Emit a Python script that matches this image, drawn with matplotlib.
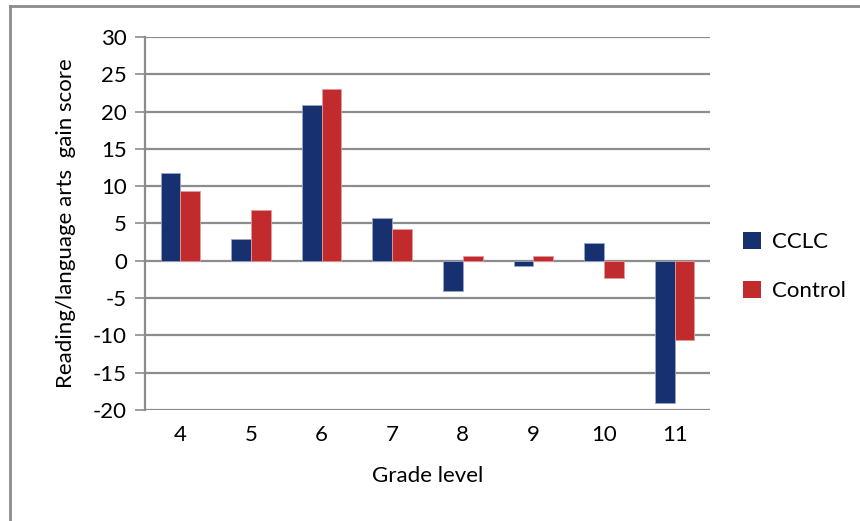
import numpy as np
import matplotlib.pyplot as plt
from matplotlib.lines import Line2D
from matplotlib.patches import Patch

plt.rcParams['font.family'] = ['Lato', 'DejaVu Sans']
plt.rcParams['axes.unicode_minus'] = False

grades = ['4', '5', '6', '7', '8', '9', '10', '11']
cclc = [11.8, 2.9, 20.9, 5.8, -4.1, -0.7, 2.4, -19.1]
control = [9.3, 6.8, 23.0, 4.3, 0.6, 0.7, -2.3, -10.6]

blue = '#17306f'
red = '#c22b2e'
grid_col = '#8c8c8c'
fs = 16

fig = plt.figure(figsize=(8.6, 5.21), dpi=100)
ax = fig.add_axes([0.1686, 0.2131, 0.6570, 0.7159])

x = np.arange(len(grades))
w = 0.28
ax.bar(x - w / 2, cclc, w, color=blue, edgecolor='#9aa6c8', linewidth=0.6, zorder=3)
ax.bar(x + w / 2, control, w, color=red, edgecolor='#e29a9c', linewidth=0.6, zorder=3)

ax.set_xlim(-0.5, len(grades) - 0.5)
ax.set_ylim(-20, 30)
ax.set_yticks(range(-20, 31, 5))
ax.set_xticks(x)
ax.set_xticklabels(grades)
for v in range(-20, 31, 5):
    ax.axhline(v, color=grid_col, linewidth=1.6, zorder=1)

for s in ['top', 'right', 'bottom']:
    ax.spines[s].set_visible(False)
ax.spines['left'].set_color(grid_col)
ax.spines['left'].set_linewidth(1.6)
ax.tick_params(axis='y', length=7, width=1.2, color=grid_col, labelsize=fs, pad=6)
ax.tick_params(axis='x', length=0, labelsize=fs, pad=11)

ax.set_xlabel('Grade level', fontsize=fs, labelpad=15)
ax.set_ylabel('Reading/language arts  gain score', fontsize=fs, labelpad=12)

handles = [Patch(facecolor=blue), Patch(facecolor=red)]
fig.legend(handles, ['CCLC', 'Control'], loc='center left',
           bbox_to_anchor=(0.864, 0.488), frameon=False, fontsize=fs,
           handlelength=0.8, handleheight=0.8, handletextpad=0.5,
           labelspacing=1.3, borderaxespad=0, borderpad=0)

# chart area border (left and top edges visible)
fig.add_artist(Line2D([0.0122, 0.0122], [0, 0.988], color=grid_col, linewidth=2,
                      transform=fig.transFigure))
fig.add_artist(Line2D([0.0122, 1], [0.988, 0.988], color=grid_col, linewidth=2,
                      transform=fig.transFigure))

fig.savefig('out.png', dpi=100)
